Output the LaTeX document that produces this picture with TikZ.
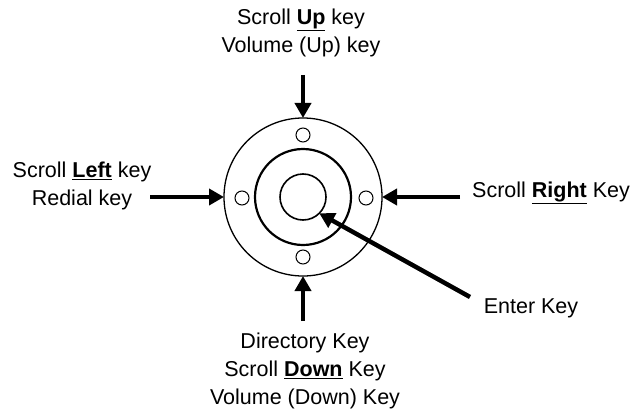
\documentclass[tikz,border=0pt]{standalone}
\usepackage{fontspec}
\setmainfont{Liberation Sans}
\usetikzlibrary{arrows.meta}

\begin{document}
\begin{tikzpicture}[x=1pt,y=-1pt,
  ring/.style={draw,circle,inner sep=0pt,outer sep=0pt},
  keydot/.style={ring,minimum size=14pt,line width=1pt},
  keyarrow/.style={line width=4.5pt,-{Triangle[length=15pt,width=16pt]}},
  label/.style={align=center,inner sep=0pt,font=\fontsize{21.5}{28}\selectfont}]

  \useasboundingbox (0,0) rectangle (644,417);

  \def\keyword#1{\underline{\textbf{#1}}}

  \node[ring,minimum size=158pt,line width=1.3pt] (outer) at (303,197) {};
  \node[ring,minimum size=96pt,line width=2.2pt] (middle) at (303,197) {};
  \node[ring,minimum size=46pt,line width=1.6pt] (inner) at (303,197) {};

  \node[keydot] (upkey) at (303,135) {};
  \node[keydot] (downkey) at (303,257) {};
  \node[keydot] (leftkey) at (242,198) {};
  \node[keydot] (rightkey) at (366,198) {};

  \node[label] (uptext) at (301,33) {Scroll \keyword{Up} key\\Volume (Up) key};
  \node[label] (lefttext) at (82,186) {Scroll \keyword{Left} key\\Redial key};
  \node[label] (righttext) at (551,193) {Scroll \keyword{Right} Key};
  \node[label] (downtext) at (305,371) {Directory Key\\Scroll \keyword{Down} Key\\Volume (Down) Key};
  \node[label] (entertext) at (531,308) {Enter Key};

  \coordinate (upstart) at (303,75);
  \coordinate (leftstart) at (150,197);
  \coordinate (rightstart) at (460,197);
  \coordinate (downstart) at (303,321);
  \coordinate (enterstart) at (470,297);

  \draw[keyarrow] (upstart) -- (outer.north);
  \draw[keyarrow] (leftstart) -- (outer.west);
  \draw[keyarrow] (rightstart) -- (outer.east);
  \draw[keyarrow] (downstart) -- (outer.south);
  \draw[keyarrow] (enterstart) -- (inner.-45);

\end{tikzpicture}
\end{document}
